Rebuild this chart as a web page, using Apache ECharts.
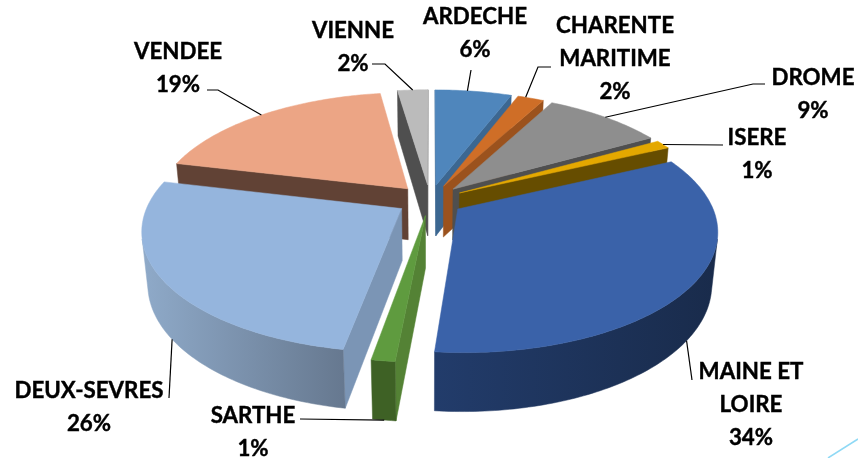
<!DOCTYPE html>
<html>
<head>
<meta charset="utf-8">
<title>Departements</title>
<style>
html, body { margin: 0; padding: 0; background: #fff; }
#chart { width: 858px; height: 458px; }
</style>
<script src="https://cdn.jsdelivr.net/npm/echarts@6/dist/echarts.min.js"></script>
</head>
<body>
<div id="chart"></div>
<script>
var categories = ['ARDECHE', 'CHARENTE\nMARITIME', 'DROME', 'ISERE', 'MAINE ET\nLOIRE', 'SARTHE', 'DEUX-SEVRES', 'VENDEE', 'VIENNE'];
// estimated from the slice edges, the labels show them rounded
var values = [5.8, 2, 9, 1.2, 33.5, 1.25, 26, 18.95, 2.3];

var topColors = ['#4F86BC', '#CF6E27', '#8E8E8E', '#E4A800', '#3A62A9', '#5F9B3F', '#95B5DD', '#ECA585', '#BBBBBB'];
var wallColors = ['#3C6791', '#9B521D', '#4F4F4F', '#664D00', '#1B2F52', '#548235', '#7B95B5', '#614235', '#4F4F4F'];
var rimLeftColors = ['#3C6791', '#9B521D', '#4F4F4F', '#664D00', '#223C6B', '#3E6125', '#8FAAC9', '#614235', '#4F4F4F'];
var rimRightColors = ['#3C6791', '#9B521D', '#4F4F4F', '#664D00', '#192B4B', '#3E6125', '#66788F', '#614235', '#4F4F4F'];

// camera
var centerX = 430, centerY = 200, radiusPx = 252;
var camDist = 5.25, camElev = 27.4 * Math.PI / 180;
var explode = 0.133, thickness = 0.235;

// label centre, elbow of the leader line, where on the slice's arc it lands
var labelBoxes = [
    {x: 475, y: 33, elbow: [[471, 70]], at: 0.42},
    {x: 615, y: 59, elbow: [[551, 67], [538, 67]], at: 0.3},
    {x: 813, y: 94, elbow: [[765, 84], [753, 84]], at: 0.5},
    {x: 757, y: 154, elbow: [[723, 145]], at: 0.5},
    {x: 751, y: 405, elbow: [[692, 380]], at: 0.5},
    {x: 253, y: 432, elbow: [[300, 419]], at: 0.5},
    {x: 89, y: 407, elbow: [[169, 398]], at: 0.485},
    {x: 178, y: 68, elbow: [[207, 90], [218, 90]], at: 0.5},
    {x: 353, y: 47, elbow: [[372, 64], [385, 64]], at: 0.5}
];

function project(x, y, z) {
    var sinE = Math.sin(camElev), cosE = Math.cos(camElev);
    var w = 1 + (y * cosE - z * sinE) / camDist;
    return [
        centerX + radiusPx * x / w,
        centerY - radiusPx * (y * sinE + z * cosE) / w
    ];
}

// 求每一片的角度和炸开后的圆心
var total = values.reduce(function (a, b) { return a + b; }, 0);
var slices = [];
var acc = 0;
for (var i = 0; i < values.length; i++) {
    var a0 = acc / total * Math.PI * 2;
    acc += values[i];
    var a1 = acc / total * Math.PI * 2;
    var mid = (a0 + a1) / 2;
    slices.push({
        index: i, a0: a0, a1: a1, mid: mid,
        ox: explode * Math.sin(mid), oy: explode * Math.cos(mid)
    });
}

function rimPoint(s, a, z) {
    return project(s.ox + Math.sin(a), s.oy + Math.cos(a), z);
}

function facing(px, py, nx, ny) {
    var camY = -camDist * Math.cos(camElev);
    return (0 - px) * nx + (camY - py) * ny > 0;
}

function polygonItem(points, fill) {
    return {
        type: 'polygon',
        shape: {points: points},
        style: {fill: fill, stroke: fill, lineWidth: 0.5}
    };
}

function radialWall(s, a, nx, ny, fill) {
    var midX = s.ox + Math.sin(a) / 2, midY = s.oy + Math.cos(a) / 2;
    if (!facing(midX, midY, nx, ny)) return null;
    return polygonItem([
        project(s.ox, s.oy, 0),
        rimPoint(s, a, 0),
        rimPoint(s, a, -thickness),
        project(s.ox, s.oy, -thickness)
    ], fill);
}

function renderSlice(params, api) {
    var s = slices[api.value(0)];
    var children = [];
    var i = s.index;
    var wall0 = radialWall(s, s.a0, -Math.cos(s.a0), Math.sin(s.a0), wallColors[i]);
    var wall1 = radialWall(s, s.a1, Math.cos(s.a1), -Math.sin(s.a1), wallColors[i]);
    if (wall0) children.push(wall0);
    if (wall1) children.push(wall1);

    var steps = Math.max(4, Math.round((s.a1 - s.a0) * 60));
    var upper = [], lower = [];
    for (var k = 0; k <= steps; k++) {
        var a = s.a0 + (s.a1 - s.a0) * k / steps;
        if (facing(s.ox + Math.sin(a), s.oy + Math.cos(a), Math.sin(a), Math.cos(a))) {
            upper.push(rimPoint(s, a, 0));
            lower.unshift(rimPoint(s, a, -thickness));
        }
    }
    if (upper.length > 1) {
        children.push(polygonItem(upper.concat(lower), new echarts.graphic.LinearGradient(0, 0, 1, 0, [
            {offset: 0, color: rimLeftColors[i]},
            {offset: 1, color: rimRightColors[i]}
        ])));
    }

    var top = [project(s.ox, s.oy, 0)];
    for (var k2 = 0; k2 <= steps; k2++) {
        top.push(rimPoint(s, s.a0 + (s.a1 - s.a0) * k2 / steps, 0));
    }
    children.push(polygonItem(top, topColors[i]));
    return {type: 'group', children: children};
}

function renderLabel(params, api) {
    var i = api.value(0);
    var s = slices[i];
    var box = labelBoxes[i];
    var anchor = rimPoint(s, s.a0 + (s.a1 - s.a0) * box.at, Math.cos(s.mid) < 0 ? -thickness : 0);
    return {
        type: 'group',
        children: [{
            type: 'polyline',
            shape: {points: box.elbow.concat([anchor])},
            style: {stroke: '#000', lineWidth: 1.2, fill: null}
        }, {
            type: 'text',
            x: box.x,
            y: box.y,
            style: {
                text: categories[i] + '\n' + Math.round(values[i]) + '%',
                fill: '#000',
                stroke: '#000',
                lineWidth: 0.4,
                font: 'bold 22.3px Lato',
                lineHeight: 33,
                align: 'center',
                verticalAlign: 'middle'
            }
        }]
    };
}

// 从后往前画
var drawOrder = slices.slice().sort(function (p, q) {
    return q.oy - p.oy;
}).map(function (s) { return [s.index]; });

var chart = echarts.init(document.getElementById('chart'));
var option = {
    backgroundColor: '#fff',
    animation: false,
    graphic: {
        elements: [{
            type: 'line',
            shape: {x1: 828, y1: 458, x2: 858, y2: 439},
            style: {stroke: '#8FD9F5', lineWidth: 1.5}
        }]
    },
    series: [
        {type: 'custom', coordinateSystem: 'none', renderItem: renderSlice, data: drawOrder, silent: true, z: 2},
        {type: 'custom', coordinateSystem: 'none', renderItem: renderLabel, data: drawOrder, silent: true, z: 3}
    ]
};
chart.setOption(option);
</script>
</body>
</html>
